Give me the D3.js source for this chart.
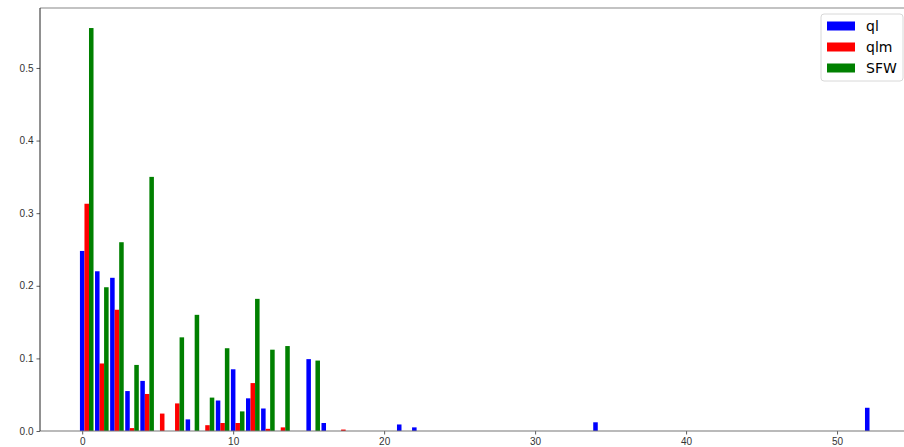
<!DOCTYPE html>
<html>
<head>
<meta charset="utf-8">
<script src="https://cdn.jsdelivr.net/npm/d3@7"></script>
<style>
  html, body { margin: 0; padding: 0; background: #fff; }
  svg { display: block; font-family: "DejaVu Sans", sans-serif; }
  .tick text { fill: #333; font-size: 10px; }
</style>
</head>
<body>
<svg id="chart" width="904" height="447"></svg>
<script>
/* grouped histogram: three series side by side at each integer bin */
const bins = [0, 1, 2, 3, 4, 5, 6, 7, 8, 9, 10, 11, 12, 13, 15, 16, 17, 21, 22, 34, 52];
const ql   = [0.248, 0.220, 0.211, 0.055, 0.069, 0, 0, 0.016, 0, 0.042, 0.085, 0.045, 0.031, 0, 0.099, 0.011, 0, 0.009, 0.005, 0.012, 0.032];
const qlm  = [0.313, 0.093, 0.167, 0.004, 0.051, 0.024, 0.038, 0, 0.008, 0.011, 0.011, 0.066, 0.003, 0.005, 0, 0, 0.002, 0, 0, 0, 0];
const sfw  = [0.555, 0.198, 0.260, 0.091, 0.350, 0, 0.129, 0.160, 0.046, 0.114, 0.027, 0.182, 0.112, 0.117, 0.097, 0, 0, 0, 0, 0, 0];
const seriesNames = ["ql", "qlm", "SFW"];
const xTicks = [0, 10, 20, 30, 40, 50];
const yTicks = [0, 0.1, 0.2, 0.3, 0.4, 0.5];

(function () {
  "use strict";
  const COLORS = ["#0000ff", "#ff0000", "#008000"];
  const BAR_W = 0.3;
  const svg = d3.select("#chart");
  const L = 40, T = 8, B = 431, R = 918.5;

  const x = d3.scaleLinear().domain([-2.795, 55.395]).range([L, R]);
  const y = d3.scaleLinear().domain([0, 0.5826]).range([B, T]);

  const series = [ql, qlm, sfw];
  series.forEach((vals, s) => {
    svg.append("g").selectAll("rect").data(bins.map((b, i) => ({ b, v: vals[i] })).filter((d) => d.v > 0))
      .enter().append("rect")
      .attr("x", (d) => x(d.b + s * BAR_W - BAR_W / 2))
      .attr("width", x(BAR_W) - x(0))
      .attr("y", (d) => y(d.v))
      .attr("height", (d) => y(0) - y(d.v))
      .attr("fill", COLORS[s]);
  });

  // axes
  const ax = svg.append("g").attr("transform", `translate(0,${B})`)
    .call(d3.axisBottom(x).tickValues(xTicks).tickFormat(d3.format("d")).tickSize(3.5).tickPadding(3));
  const ay = svg.append("g").attr("transform", `translate(${L},0)`)
    .call(d3.axisLeft(y).tickValues(yTicks).tickFormat(d3.format(".1f")).tickSize(3.5).tickPadding(3));
  [ax, ay].forEach((g) => {
    g.select(".domain").remove();
    g.selectAll(".tick line").attr("stroke", "#333").attr("stroke-width", 0.8);
  });

  // spines
  svg.append("line").attr("x1", L).attr("x2", R).attr("y1", T).attr("y2", T).attr("stroke", "#888").attr("stroke-width", 1.2);
  svg.append("line").attr("x1", L).attr("x2", R).attr("y1", B).attr("y2", B).attr("stroke", "#777").attr("stroke-width", 1.2);
  svg.append("line").attr("x1", L).attr("x2", L).attr("y1", T).attr("y2", B).attr("stroke", "#222").attr("stroke-width", 1);

  // legend
  const lg = svg.append("g").attr("transform", "translate(821,14)");
  lg.append("rect").attr("width", 82).attr("height", 67).attr("rx", 3)
    .attr("fill", "#fff").attr("fill-opacity", 0.8).attr("stroke", "#d8d8d8");
  seriesNames.forEach((name, i) => {
    const cy = 12 + i * 21;
    lg.append("rect").attr("x", 6).attr("y", cy - 4.5).attr("width", 28).attr("height", 9).attr("fill", COLORS[i]);
    lg.append("text").attr("x", 45).attr("y", cy + 5).attr("font-size", 14).attr("fill", "#000").text(name);
  });
})();
</script>
</body>
</html>
